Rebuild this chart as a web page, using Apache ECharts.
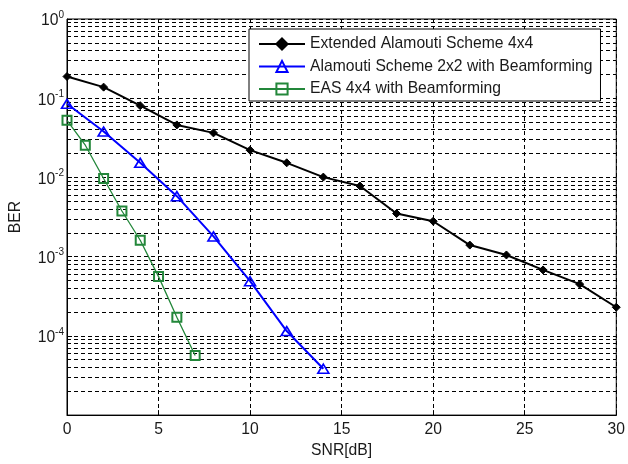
<!DOCTYPE html>
<html>
<head>
<meta charset="utf-8">
<script src="https://cdn.jsdelivr.net/npm/echarts@6/dist/echarts.min.js"></script>
<style>html,body{margin:0;padding:0;background:#fff}#c{width:628px;height:464px}</style>
</head>
<body>
<div id="c"></div>
<script>
var snrExt = [0,2,4,6,8,10,12,14,16,18,20,22,24,26,28,30];
var berExt = [0.188,0.138,0.0805,0.046,0.0365,0.0221,0.0153,0.0101,0.0078,0.0035,0.0028,0.0014,0.00105,0.00068,0.00045,0.00023];
var snrAla = [0,2,4,6,8,10,12,14];
var berAla = [0.085,0.038,0.0153,0.0058,0.0018,0.00049,0.000115,0.0000385];
var snrEas = [0,1,2,3,4,5,6,7];
var berEas = [0.0526,0.0255,0.0097,0.00377,0.00161,0.00056,0.000172,0.0000564];
var seriesNames = ['Extended Alamouti Scheme 4x4','Alamouti Scheme 2x2 with Beamforming','EAS 4x4 with Beamforming'];
var xTicks = [0,5,10,15,20,25,30];
var yDecades = [-4,-3,-2,-1,0];

function pairs(xs, ys){ return xs.map(function(x,i){return [x, ys[i]];}); }

var minorLines = [];
for (var d = -5; d < 0; d++) {
  for (var k = 2; k <= 9; k++) minorLines.push({yAxis: k * Math.pow(10, d)});
}

var FONT = 'Liberation Sans';
var FS = 15.7;
var TXT = '#1a1a1a';
var chart = echarts.init(document.getElementById('c'), null, {renderer:'canvas'});
chart.setOption({
  animation: false,
  backgroundColor: '#fff',
  textStyle: {fontFamily: FONT},
  grid: {left: 65, right: 7, top: 19, bottom: 47.5, show: true, borderColor: '#000', borderWidth: 1, backgroundColor: '#fff'},
  legend: {
    left: 249, top: 29, orient: 'vertical',
    backgroundColor: '#fff', borderColor: '#000', borderWidth: 1,
    padding: [7, 8, 4, 9], itemGap: 6.5, itemWidth: 46, itemHeight: 14,
    textStyle: {fontFamily: FONT, fontSize: FS, color: TXT},
    data: seriesNames
  },
  xAxis: {
    type: 'value', min: 0, max: 30, interval: 5,
    name: 'SNR[dB]', nameLocation: 'middle', nameGap: 26,
    nameTextStyle: {fontFamily: FONT, fontSize: FS, color: TXT},
    axisLine: {show: true, lineStyle: {color: '#000'}},
    axisTick: {show: true, inside: true, length: 5, lineStyle: {color: '#000'}},
    axisLabel: {fontFamily: FONT, fontSize: FS, color: TXT, margin: 7,
      formatter: function(v){ return xTicks.indexOf(v) >= 0 ? String(v) : ''; }},
    splitLine: {show: true, lineStyle: {type: [4,3], color: '#000', width: 1}}
  },
  yAxis: {
    type: 'log', logBase: 10, min: 1e-5, max: 1,
    name: 'BER', nameLocation: 'middle', nameGap: 43, nameRotate: 90,
    nameTextStyle: {fontFamily: FONT, fontSize: FS, color: TXT},
    axisLine: {show: true, lineStyle: {color: '#000'}},
    axisTick: {show: true, inside: true, length: 5, lineStyle: {color: '#000'}},
    axisLabel: {
      margin: 3, color: TXT, padding: [14, 0, 0, 0],
      formatter: function(v){
        var e = Math.round(Math.log10(v));
        if (yDecades.indexOf(e) < 0) return '';
        return '{b|10}{s|' + e + '}';
      },
      rich: {
        b: {fontFamily: FONT, fontSize: FS, color: TXT, lineHeight: 16, padding: [0,0,5,0], verticalAlign: 'bottom'},
        s: {fontFamily: FONT, fontSize: 10, color: TXT, lineHeight: 10, padding: [0,0,14,0], verticalAlign: 'bottom'}
      }
    },
    splitLine: {show: true, lineStyle: {type: [4,3], color: '#000', width: 1}}
  },
  series: [
    {
      name: seriesNames[0], type: 'line', data: pairs(snrExt, berExt), z: 4,
      symbol: 'diamond', symbolSize: 8, showSymbol: true,
      lineStyle: {color: '#000', width: 2},
      itemStyle: {color: '#000', borderColor: '#000', borderWidth: 1}
    },
    {
      name: seriesNames[1], type: 'line', data: pairs(snrAla, berAla), z: 4,
      symbol: 'triangle', symbolSize: [11, 9],
      lineStyle: {color: '#0000ff', width: 2},
      itemStyle: {color: 'rgba(0,0,0,0)', borderColor: '#0000ff', borderWidth: 1.6}
    },
    {
      name: seriesNames[2], type: 'line', data: pairs(snrEas, berEas), z: 4,
      symbol: 'rect', symbolSize: 9,
      lineStyle: {color: '#23873a', width: 1.3},
      itemStyle: {color: 'rgba(0,0,0,0)', borderColor: '#23873a', borderWidth: 2},
      markLine: {
        silent: true, symbol: 'none', z: 1, precision: 12, label: {show: false},
        lineStyle: {type: [4,3], color: '#000', width: 1},
        data: minorLines
      }
    }
  ]
});
</script>
</body>
</html>
